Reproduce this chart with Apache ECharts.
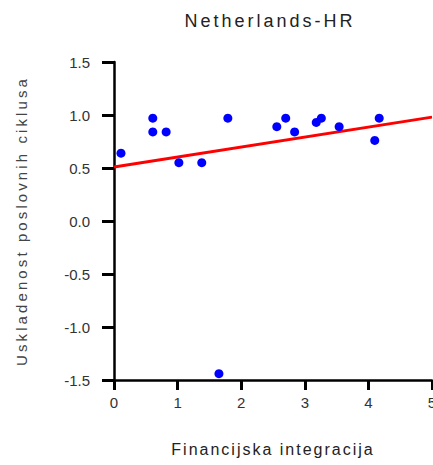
<!DOCTYPE html>
<html>
<head>
<meta charset="utf-8">
<script src="https://cdn.jsdelivr.net/npm/echarts@6/dist/echarts.min.js"></script>
<style>html,body{margin:0;padding:0;background:#fff;overflow:hidden;}#c{width:433px;height:465px;}</style>
</head>
<body>
<div id="c"></div>
<script>
const pointsX = [0.11, 0.61, 0.61, 0.82, 1.02, 1.38, 1.65, 1.79, 2.56, 2.70, 2.84, 3.18, 3.26, 3.54, 4.10, 4.17];
const pointsY = [0.64, 0.97, 0.84, 0.84, 0.55, 0.55, -1.44, 0.97, 0.89, 0.97, 0.84, 0.93, 0.97, 0.89, 0.76, 0.97];
const fitX = [0, 5];
const fitY = [0.51, 0.98];
const xTicks = [0, 1, 2, 3, 4, 5];
const yTicks = [-1.5, -1.0, -0.5, 0.0, 0.5, 1.0, 1.5];
const titleText = 'Netherlands-HR';
const xName = 'Financijska integracija';
const yName = 'Uskladenost poslovnih ciklusa';

const font = 'Liberation Sans, Arial, sans-serif';
const chart = echarts.init(document.getElementById('c'), null, {renderer: 'svg'});
chart.setOption({
  animation: false,
  title: {
    text: titleText,
    left: 265, top: 7, textAlign: 'center',
    textStyle: {fontFamily: font, fontSize: 18, fontWeight: 'normal', color: '#222'}
  },
  grid: {left: 114, width: 318, top: 62, bottom: 85, containLabel: false, outerBoundsMode: 'none'},
  xAxis: {
    type: 'value', min: xTicks[0], max: xTicks[xTicks.length - 1], interval: 1,
    name: xName, nameLocation: 'middle', nameGap: 61,
    nameTextStyle: {fontFamily: font, fontSize: 16, color: '#222'},
    axisLine: {show: true, onZero: false, lineStyle: {color: '#000', width: 2.5}},
    axisTick: {show: true, inside: false, length: 10, lineStyle: {color: '#000', width: 3}},
    axisLabel: {fontFamily: font, fontSize: 15, color: '#333', margin: 15},
    splitLine: {show: false}
  },
  yAxis: {
    type: 'value', min: yTicks[0], max: yTicks[yTicks.length - 1], interval: 0.5,
    name: yName, nameLocation: 'middle', nameGap: 85,
    nameTextStyle: {fontFamily: font, fontSize: 15, color: '#444'},
    axisLine: {show: true, onZero: false, lineStyle: {color: '#000', width: 2.5}},
    axisTick: {show: true, inside: false, length: 12, lineStyle: {color: '#000', width: 3}},
    axisLabel: {fontFamily: font, fontSize: 15, color: '#333', margin: 24,
      formatter: v => v.toFixed(1)},
    splitLine: {show: false}
  },
  series: [
    {
      type: 'line', data: fitX.map((x, i) => [x, fitY[i]]),
      symbol: 'none', lineStyle: {color: '#ff0000', width: 3}, z: 2
    },
    {
      type: 'scatter', data: pointsX.map((x, i) => [x, pointsY[i]]),
      symbolSize: 9, itemStyle: {color: '#0000ff', opacity: 1}, z: 3
    }
  ]
});
function spaceText() {
  const spacing = {};
  spacing[titleText] = '3px';
  spacing[xName] = '2px';
  spacing[yName] = '3.1px';
  document.querySelectorAll('#c text').forEach(t => {
    const s = spacing[t.textContent];
    if (s) t.style.letterSpacing = s;
  });
}
spaceText();
chart.on('finished', spaceText);
</script>
</body>
</html>
